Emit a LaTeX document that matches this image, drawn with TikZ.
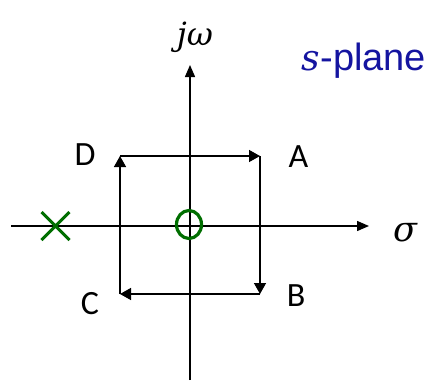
\documentclass[tikz,border=0pt]{standalone}
\usepackage{fontspec}
\setmainfont{Carlito}
\newfontfamily\arialfont{Liberation Sans}
\newfontfamily\mitfont{DejaVu Serif Italic}
\usetikzlibrary{arrows.meta,shapes.geometric,shapes.misc}
\definecolor{pzgreen}{RGB}{0,110,0}
\definecolor{planeblue}{RGB}{20,20,160}
\tikzset{
  axis/.style={line width=1.4pt,-{Triangle[length=12pt,width=10pt]}},
  path/.style={line width=1.4pt,-{Triangle[length=11pt,width=12pt]}},
  lbl/.style={font=\fontsize{34}{36}\selectfont,anchor=base,inner sep=0pt},
  mlbl/.style={font=\fontsize{32}{34}\selectfont\mitfont,anchor=base,inner sep=0pt},
  zerostyle/.style={draw=pzgreen,line width=3.2pt,ellipse,inner sep=0pt,minimum width=25pt,minimum height=28pt},
  polestyle/.style={draw=pzgreen,line width=3pt,cross out,inner sep=0pt,minimum size=25pt}
}
\begin{document}
\begin{tikzpicture}[x=1pt,y=-1pt]
\path[use as bounding box] (0,0) rectangle (427,380);
% axes
\coordinate (xl) at (11,226);
\coordinate (xr) at (369,226);
\coordinate (yb) at (190,380);
\coordinate (yt) at (190,65);
\draw[axis] (xl) -- (xr);
\draw[axis] (yb) -- (yt);
\node[mlbl,font=\fontsize{35}{37}\selectfont\mitfont] (sig) at (405,241) {σ};
\node[mlbl] (jw) at (195,45) {jω};
\node[text=planeblue,font=\fontsize{38}{40}\selectfont\arialfont,anchor=base,inner sep=0pt] (sp) at (364,70) {{\mitfont\fontsize{36}{38}\selectfont s}-plane};
% path corners
\coordinate (pA) at (260,156);
\coordinate (pB) at (260,294);
\coordinate (pC) at (120,294);
\coordinate (pD) at (120,156);
\draw[path] (pD) -- (pA);
\draw[path] (pA) -- (pB);
\draw[path] (pB) -- (pC);
\draw[path] (pC) -- (pD);
\node[lbl] (A) at (298.5,167) {A};
\node[lbl] (B) at (296,306) {B};
\node[lbl] (C) at (90,314) {C};
\node[lbl] (D) at (85,165) {D};
% pole and zero
\node[zerostyle] (zero) at (189,224.5) {};
\node[polestyle] (pole) at (55.5,226) {};
\end{tikzpicture}
\end{document}
